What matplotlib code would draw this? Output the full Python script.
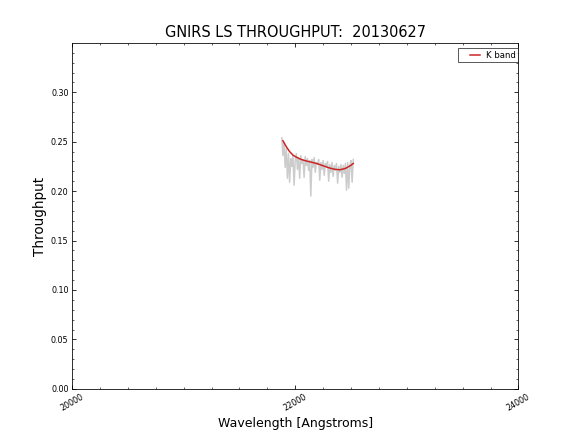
import matplotlib
matplotlib.use("Agg")
import matplotlib.pyplot as plt
from matplotlib.ticker import MultipleLocator, FormatStrFormatter
from matplotlib.legend_handler import HandlerLine2D

# Raw throughput spectrum (gray)
wave_raw = [21880, 21890, 21900, 21910, 21920, 21930, 21940, 21950, 21960, 21970,
            21980, 21990, 22000, 22010, 22020, 22030, 22040, 22050, 22060, 22070,
            22080, 22090, 22100, 22110, 22120, 22130, 22140, 22150, 22160, 22170,
            22180, 22190, 22200, 22210, 22220, 22230, 22240, 22250, 22260, 22270,
            22280, 22290, 22300, 22310, 22320, 22330, 22340, 22350, 22360, 22370,
            22380, 22390, 22400, 22410, 22420, 22430, 22440, 22450, 22460, 22470,
            22480, 22490, 22500, 22510, 22520]
thru_raw = [0.254, 0.236, 0.249, 0.224, 0.243, 0.213, 0.238, 0.209, 0.233, 0.225,
            0.236, 0.206, 0.231, 0.238, 0.222, 0.234, 0.213, 0.236, 0.228, 0.232,
            0.214, 0.235, 0.226, 0.233, 0.221, 0.231, 0.195, 0.232, 0.224, 0.234,
            0.219, 0.229, 0.227, 0.232, 0.211, 0.229, 0.222, 0.231, 0.216, 0.228,
            0.225, 0.230, 0.210, 0.227, 0.219, 0.229, 0.215, 0.226, 0.221, 0.228,
            0.208, 0.225, 0.219, 0.227, 0.214, 0.226, 0.218, 0.228, 0.201, 0.229,
            0.203, 0.226, 0.231, 0.209, 0.232]

# Smooth fit (red)
wave_fit = [21890, 21920, 21950, 21980, 22000, 22050, 22100, 22150, 22200, 22250,
            22300, 22350, 22400, 22450, 22500, 22520]
thru_fit = [0.2510, 0.2450, 0.2400, 0.2365, 0.2350, 0.2322, 0.2305, 0.2292, 0.2277, 0.2257,
            0.2237, 0.2222, 0.2216, 0.2230, 0.2262, 0.2280]


class ShortLine(HandlerLine2D):
    def create_artists(self, legend, orig_handle, xdescent, ydescent, width,
                       height, fontsize, trans):
        short = 10.0
        return super().create_artists(legend, orig_handle,
                                      xdescent - (width - short), ydescent,
                                      short, height, fontsize, trans)


fig = plt.figure(figsize=(8, 6), dpi=72)
ax = fig.add_axes([0.125, 0.1, 0.775, 0.8])
ax.plot(wave_raw, thru_raw, color='#cccccc', lw=1.5)
line_fit, = ax.plot(wave_fit, thru_fit, color='#cc2222', lw=1.5, label='K band')

ax.set_xlim(20000, 24000)
ax.set_ylim(0, 0.3497)
ax.xaxis.set_major_locator(MultipleLocator(2000))
ax.xaxis.set_minor_locator(MultipleLocator(250))
ax.yaxis.set_major_locator(MultipleLocator(0.05))
ax.yaxis.set_minor_locator(MultipleLocator(0.01))
ax.yaxis.set_major_formatter(FormatStrFormatter('%.2f'))
ax.tick_params(which='both', direction='in', top=True, right=True, labelsize=8)
ax.tick_params(which='major', length=4)
ax.tick_params(which='minor', length=2)
for lbl in ax.get_xticklabels():
    lbl.set_rotation(30)
    lbl.set_ha('center')

ax.set_title('GNIRS LS THROUGHPUT:  20130627', fontsize=14.5)
ax.set_xlabel('Wavelength [Angstroms]', fontsize=12.5)
ax.set_ylabel('Throughput', fontsize=13.5)
leg = ax.legend(loc='upper right', fontsize=8.5, fancybox=False, handlelength=2.3,
                borderaxespad=0.0, bbox_to_anchor=(0.999, 0.985), borderpad=0.3,
                handletextpad=0.6, handler_map={line_fit: ShortLine()})
leg.get_frame().set_edgecolor('black')
leg.get_frame().set_linewidth(0.8)

fig.savefig('out.png', dpi=72)
